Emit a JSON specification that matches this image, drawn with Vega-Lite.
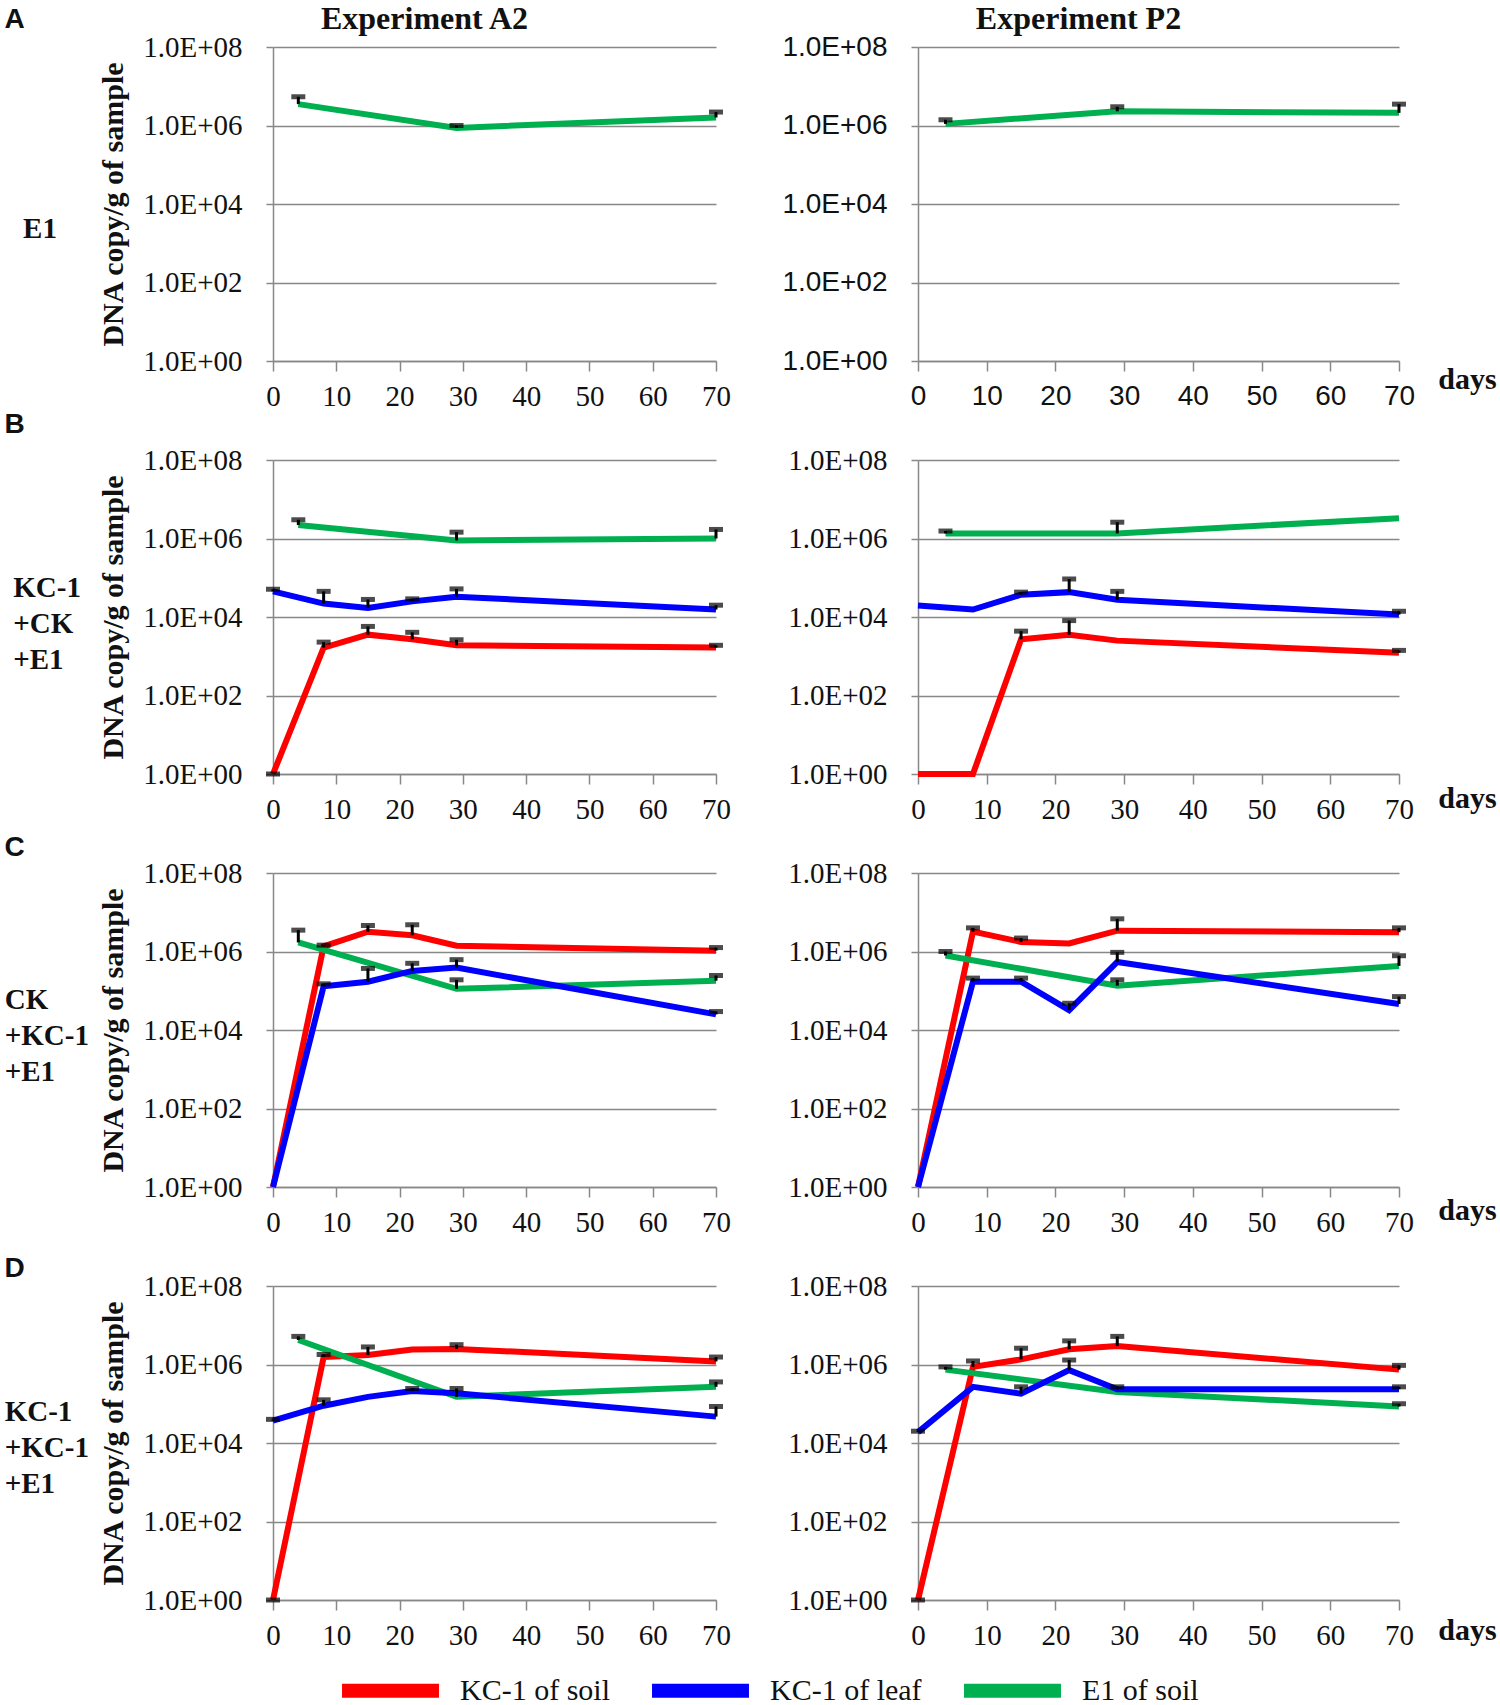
{
"$schema":"https://vega.github.io/schema/vega-lite/v6.json",
"autosize":"none",
"padding":{"left":273,"top":47,"right":1227,"bottom":1658},
"background":"white",
"datasets":{"d":[
{"panel":"A-A2","series":"E1 of soil","day":4,"value":3500000,"err":5400000},
{"panel":"A-A2","series":"E1 of soil","day":29,"value":870000,"err":1000000},
{"panel":"A-A2","series":"E1 of soil","day":70,"value":1600000,"err":2200000},
{"panel":"A-P2","series":"E1 of soil","day":4,"value":1100000,"err":1400000},
{"panel":"A-P2","series":"E1 of soil","day":29,"value":2300000,"err":3000000},
{"panel":"A-P2","series":"E1 of soil","day":70,"value":2100000,"err":3500000},
{"panel":"B-A2","series":"E1 of soil","day":4,"value":2200000,"err":3000000},
{"panel":"B-A2","series":"E1 of soil","day":29,"value":890000,"err":1450000},
{"panel":"B-A2","series":"E1 of soil","day":70,"value":1000000,"err":1700000},
{"panel":"B-A2","series":"KC-1 of leaf","day":0,"value":45000,"err":51000},
{"panel":"B-A2","series":"KC-1 of leaf","day":8,"value":22000,"err":45000},
{"panel":"B-A2","series":"KC-1 of leaf","day":15,"value":17000,"err":28000},
{"panel":"B-A2","series":"KC-1 of leaf","day":22,"value":25000,"err":29000},
{"panel":"B-A2","series":"KC-1 of leaf","day":29,"value":33000,"err":52000},
{"panel":"B-A2","series":"KC-1 of leaf","day":70,"value":15500,"err":20000},
{"panel":"B-A2","series":"KC-1 of soil","day":0,"value":1,"err":1},
{"panel":"B-A2","series":"KC-1 of soil","day":8,"value":1660,"err":2290},
{"panel":"B-A2","series":"KC-1 of soil","day":15,"value":3550,"err":5750},
{"panel":"B-A2","series":"KC-1 of soil","day":22,"value":2700,"err":4070},
{"panel":"B-A2","series":"KC-1 of soil","day":29,"value":1900,"err":2630},
{"panel":"B-A2","series":"KC-1 of soil","day":70,"value":1660,"err":1900},
{"panel":"B-P2","series":"E1 of soil","day":4,"value":1350000,"err":1550000},
{"panel":"B-P2","series":"E1 of soil","day":29,"value":1350000,"err":2600000},
{"panel":"B-P2","series":"E1 of soil","day":70,"value":3300000},
{"panel":"B-P2","series":"KC-1 of leaf","day":0,"value":19500},
{"panel":"B-P2","series":"KC-1 of leaf","day":8,"value":15500},
{"panel":"B-P2","series":"KC-1 of leaf","day":15,"value":37000,"err":43000},
{"panel":"B-P2","series":"KC-1 of leaf","day":22,"value":43000,"err":93000},
{"panel":"B-P2","series":"KC-1 of leaf","day":29,"value":27500,"err":45000},
{"panel":"B-P2","series":"KC-1 of leaf","day":70,"value":11500,"err":14000},
{"panel":"B-P2","series":"KC-1 of soil","day":0,"value":1},
{"panel":"B-P2","series":"KC-1 of soil","day":8,"value":1},
{"panel":"B-P2","series":"KC-1 of soil","day":15,"value":2700,"err":4360},
{"panel":"B-P2","series":"KC-1 of soil","day":22,"value":3550,"err":8100},
{"panel":"B-P2","series":"KC-1 of soil","day":29,"value":2500},
{"panel":"B-P2","series":"KC-1 of soil","day":70,"value":1230,"err":1410},
{"panel":"C-A2","series":"KC-1 of soil","day":0,"value":1},
{"panel":"C-A2","series":"KC-1 of soil","day":8,"value":1350000,"err":1450000},
{"panel":"C-A2","series":"KC-1 of soil","day":15,"value":3200000,"err":4600000},
{"panel":"C-A2","series":"KC-1 of soil","day":22,"value":2600000,"err":4800000},
{"panel":"C-A2","series":"KC-1 of soil","day":29,"value":1400000},
{"panel":"C-A2","series":"KC-1 of soil","day":70,"value":1050000,"err":1260000},
{"panel":"C-A2","series":"E1 of soil","day":4,"value":1700000,"err":3500000},
{"panel":"C-A2","series":"E1 of soil","day":29,"value":112000,"err":190000},
{"panel":"C-A2","series":"E1 of soil","day":70,"value":180000,"err":245000},
{"panel":"C-A2","series":"KC-1 of leaf","day":0,"value":1},
{"panel":"C-A2","series":"KC-1 of leaf","day":8,"value":130000,"err":150000},
{"panel":"C-A2","series":"KC-1 of leaf","day":15,"value":170000,"err":370000},
{"panel":"C-A2","series":"KC-1 of leaf","day":22,"value":320000,"err":500000},
{"panel":"C-A2","series":"KC-1 of leaf","day":29,"value":390000,"err":620000},
{"panel":"C-A2","series":"KC-1 of leaf","day":70,"value":25000,"err":29500},
{"panel":"C-P2","series":"KC-1 of soil","day":0,"value":1},
{"panel":"C-P2","series":"KC-1 of soil","day":8,"value":3200000,"err":4000000},
{"panel":"C-P2","series":"KC-1 of soil","day":15,"value":1750000,"err":2200000},
{"panel":"C-P2","series":"KC-1 of soil","day":22,"value":1600000},
{"panel":"C-P2","series":"KC-1 of soil","day":29,"value":3400000,"err":6800000},
{"panel":"C-P2","series":"KC-1 of soil","day":70,"value":3100000,"err":4000000},
{"panel":"C-P2","series":"E1 of soil","day":4,"value":790000,"err":1000000},
{"panel":"C-P2","series":"E1 of soil","day":29,"value":135000,"err":190000},
{"panel":"C-P2","series":"E1 of soil","day":70,"value":430000,"err":780000},
{"panel":"C-P2","series":"KC-1 of leaf","day":0,"value":1},
{"panel":"C-P2","series":"KC-1 of leaf","day":8,"value":170000,"err":210000},
{"panel":"C-P2","series":"KC-1 of leaf","day":15,"value":170000,"err":210000},
{"panel":"C-P2","series":"KC-1 of leaf","day":22,"value":32000,"err":48000},
{"panel":"C-P2","series":"KC-1 of leaf","day":29,"value":540000,"err":950000},
{"panel":"C-P2","series":"KC-1 of leaf","day":70,"value":46000,"err":71000},
{"panel":"D-A2","series":"KC-1 of soil","day":0,"value":1,"err":1},
{"panel":"D-A2","series":"KC-1 of soil","day":8,"value":1550000,"err":1800000},
{"panel":"D-A2","series":"KC-1 of soil","day":15,"value":1750000,"err":2800000},
{"panel":"D-A2","series":"KC-1 of soil","day":22,"value":2400000},
{"panel":"D-A2","series":"KC-1 of soil","day":29,"value":2500000,"err":3200000},
{"panel":"D-A2","series":"KC-1 of soil","day":70,"value":1200000,"err":1550000},
{"panel":"D-A2","series":"E1 of soil","day":4,"value":4200000,"err":5200000},
{"panel":"D-A2","series":"E1 of soil","day":29,"value":150000,"err":245000},
{"panel":"D-A2","series":"E1 of soil","day":70,"value":270000,"err":360000},
{"panel":"D-A2","series":"KC-1 of leaf","day":0,"value":37000,"err":40000},
{"panel":"D-A2","series":"KC-1 of leaf","day":8,"value":89000,"err":126000},
{"panel":"D-A2","series":"KC-1 of leaf","day":15,"value":150000},
{"panel":"D-A2","series":"KC-1 of leaf","day":22,"value":210000,"err":245000},
{"panel":"D-A2","series":"KC-1 of leaf","day":29,"value":185000},
{"panel":"D-A2","series":"KC-1 of leaf","day":70,"value":47000,"err":85000},
{"panel":"D-P2","series":"KC-1 of soil","day":0,"value":1,"err":1},
{"panel":"D-P2","series":"KC-1 of soil","day":8,"value":870000,"err":1230000},
{"panel":"D-P2","series":"KC-1 of soil","day":15,"value":1350000,"err":2600000},
{"panel":"D-P2","series":"KC-1 of soil","day":22,"value":2450000,"err":4000000},
{"panel":"D-P2","series":"KC-1 of soil","day":29,"value":2950000,"err":5200000},
{"panel":"D-P2","series":"KC-1 of soil","day":70,"value":740000,"err":950000},
{"panel":"D-P2","series":"E1 of soil","day":4,"value":740000,"err":870000},
{"panel":"D-P2","series":"E1 of soil","day":29,"value":200000},
{"panel":"D-P2","series":"E1 of soil","day":70,"value":85000,"err":100000},
{"panel":"D-P2","series":"KC-1 of leaf","day":0,"value":19000,"err":20000},
{"panel":"D-P2","series":"KC-1 of leaf","day":8,"value":270000},
{"panel":"D-P2","series":"KC-1 of leaf","day":15,"value":180000,"err":270000},
{"panel":"D-P2","series":"KC-1 of leaf","day":22,"value":720000,"err":1300000},
{"panel":"D-P2","series":"KC-1 of leaf","day":29,"value":235000,"err":270000},
{"panel":"D-P2","series":"KC-1 of leaf","day":70,"value":235000,"err":270000}
]},
"columns":2,
"spacing":{"row":99,"column":202},
"bounds":"flush",
"concat":[
{"width":443,"height":314,"data":{"name":"d"},"transform":[{"filter":"datum.panel === 'A-A2'"}],
 "title":{"text":"E1","orient":"left","frame":"group","angle":0,"align":"left","baseline":"middle","anchor":"middle","offset":-53,"dy":25,"font":"Liberation Serif","fontSize":29,"fontWeight":"bold","color":"#111"},
 "layer":[
  {"mark":{"type":"line","strokeWidth":6},"encoding":{
   "x":{"field":"day","type":"quantitative","scale":{"domain":[0,70],"nice":false},"axis":{"values":[0,10,20,30,40,50,60,70],"format":"d","title":null}},
   "y":{"field":"value","type":"quantitative","scale":{"type":"log","domain":[1,100000000],"nice":false},"axis":{"values":[1,100,10000,1000000,100000000],"labelExpr":"'1.0E+0' + round(log(datum.value)/LN10)","grid":true,"title":"DNA copy/g of sample","titlePadding":14}},
   "color":{"field":"series","type":"nominal","scale":{"domain":["KC-1 of soil","KC-1 of leaf","E1 of soil"],"range":["#ff0000","#0000ff","#00b050"]},"legend":{"orient":"none","legendX":62,"legendY":1588,"direction":"horizontal","title":null,"symbolType":"stroke","symbolStrokeWidth":14,"symbolSize":9400,"labelFont":"Liberation Serif","labelFontSize":30,"labelColor":"#111","columnPadding":14,"labelOffset":14}}}},
  {"transform":[{"filter":"isValid(datum.err)"}],"mark":{"type":"rule","color":"#000","strokeWidth":3},"encoding":{
   "x":{"field":"day","type":"quantitative","scale":{"domain":[0,70],"nice":false},"axis":{"orient":"top","labels":false,"ticks":false,"domain":false,"grid":false,"title":"Experiment A2","titleX":151,"titleY":-29,"titleAngle":0,"titleAlign":"center","titleBaseline":"middle","titleFontSize":32}},
   "y":{"field":"value","type":"quantitative","scale":{"type":"log","domain":[1,100000000],"nice":false},"axis":{"orient":"right","labels":false,"ticks":false,"domain":false,"grid":false,"title":"A","titleAngle":0,"titleX":-702,"titleY":-28,"titleAlign":"center","titleBaseline":"middle","titleFont":"Liberation Sans","titleFontSize":28}},
   "y2":{"field":"err"}}},
  {"transform":[{"filter":"isValid(datum.err)"}],"mark":{"type":"tick","orient":"horizontal","color":"#000","thickness":5,"size":14},"encoding":{
   "x":{"field":"day","type":"quantitative","scale":{"domain":[0,70],"nice":false},"axis":null},
   "y":{"field":"err","type":"quantitative","scale":{"type":"log","domain":[1,100000000],"nice":false},"axis":null}}}
 ],
 "resolve":{"axis":{"x":"independent","y":"independent"}}},
{"width":481,"height":314,"data":{"name":"d"},"transform":[{"filter":"datum.panel === 'A-P2'"}],
 "layer":[
  {"mark":{"type":"line","strokeWidth":6},"encoding":{
   "x":{"field":"day","type":"quantitative","scale":{"domain":[0,70],"nice":false},"axis":{"values":[0,10,20,30,40,50,60,70],"format":"d","labelFont":"Liberation Sans","labelFontSize":28,"title":"days","titleX":549,"titleY":18,"titleAngle":0,"titleAlign":"center","titleBaseline":"middle"}},
   "y":{"field":"value","type":"quantitative","scale":{"type":"log","domain":[1,100000000],"nice":false},"axis":{"values":[1,100,10000,1000000,100000000],"labelExpr":"'1.0E+0' + round(log(datum.value)/LN10)","labelFont":"Liberation Sans","labelFontSize":28,"grid":true,"title":null}},
   "color":{"field":"series","type":"nominal","scale":{"domain":["KC-1 of soil","KC-1 of leaf","E1 of soil"],"range":["#ff0000","#0000ff","#00b050"]},"legend":{"orient":"none","legendX":62,"legendY":1588,"direction":"horizontal","title":null,"symbolType":"stroke","symbolStrokeWidth":14,"symbolSize":9400,"labelFont":"Liberation Serif","labelFontSize":30,"labelColor":"#111","columnPadding":14,"labelOffset":14}}}},
  {"transform":[{"filter":"isValid(datum.err)"}],"mark":{"type":"rule","color":"#000","strokeWidth":3},"encoding":{
   "x":{"field":"day","type":"quantitative","scale":{"domain":[0,70],"nice":false},"axis":{"orient":"top","labels":false,"ticks":false,"domain":false,"grid":false,"title":"Experiment P2","titleX":160,"titleY":-29,"titleAngle":0,"titleAlign":"center","titleBaseline":"middle","titleFontSize":32}},
   "y":{"field":"value","type":"quantitative","scale":{"type":"log","domain":[1,100000000],"nice":false},"axis":null},
   "y2":{"field":"err"}}},
  {"transform":[{"filter":"isValid(datum.err)"}],"mark":{"type":"tick","orient":"horizontal","color":"#000","thickness":5,"size":14},"encoding":{
   "x":{"field":"day","type":"quantitative","scale":{"domain":[0,70],"nice":false},"axis":null},
   "y":{"field":"err","type":"quantitative","scale":{"type":"log","domain":[1,100000000],"nice":false},"axis":null}}}
 ],
 "resolve":{"axis":{"x":"independent","y":"independent"}}},
{"width":443,"height":314,"data":{"name":"d"},"transform":[{"filter":"datum.panel === 'B-A2'"}],
 "title":{"text":["KC-1","+CK","+E1"],"orient":"left","frame":"group","angle":0,"align":"left","baseline":"middle","anchor":"middle","offset":-77,"dy":-29,"lineHeight":36,"font":"Liberation Serif","fontSize":29,"fontWeight":"bold","color":"#111"},
 "layer":[
  {"mark":{"type":"line","strokeWidth":6},"encoding":{
   "x":{"field":"day","type":"quantitative","scale":{"domain":[0,70],"nice":false},"axis":{"values":[0,10,20,30,40,50,60,70],"format":"d","title":null}},
   "y":{"field":"value","type":"quantitative","scale":{"type":"log","domain":[1,100000000],"nice":false},"axis":{"values":[1,100,10000,1000000,100000000],"labelExpr":"'1.0E+0' + round(log(datum.value)/LN10)","grid":true,"title":"DNA copy/g of sample","titlePadding":14}},
   "color":{"field":"series","type":"nominal","scale":{"domain":["KC-1 of soil","KC-1 of leaf","E1 of soil"],"range":["#ff0000","#0000ff","#00b050"]},"legend":{"orient":"none","legendX":62,"legendY":1588,"direction":"horizontal","title":null,"symbolType":"stroke","symbolStrokeWidth":14,"symbolSize":9400,"labelFont":"Liberation Serif","labelFontSize":30,"labelColor":"#111","columnPadding":14,"labelOffset":14}}}},
  {"transform":[{"filter":"isValid(datum.err)"}],"mark":{"type":"rule","color":"#000","strokeWidth":3},"encoding":{
   "x":{"field":"day","type":"quantitative","scale":{"domain":[0,70],"nice":false},"axis":null},
   "y":{"field":"value","type":"quantitative","scale":{"type":"log","domain":[1,100000000],"nice":false},"axis":{"orient":"right","labels":false,"ticks":false,"domain":false,"grid":false,"title":"B","titleAngle":0,"titleX":-702,"titleY":-36,"titleAlign":"center","titleBaseline":"middle","titleFont":"Liberation Sans","titleFontSize":28}},
   "y2":{"field":"err"}}},
  {"transform":[{"filter":"isValid(datum.err)"}],"mark":{"type":"tick","orient":"horizontal","color":"#000","thickness":5,"size":14},"encoding":{
   "x":{"field":"day","type":"quantitative","scale":{"domain":[0,70],"nice":false},"axis":null},
   "y":{"field":"err","type":"quantitative","scale":{"type":"log","domain":[1,100000000],"nice":false},"axis":null}}}
 ],
 "resolve":{"axis":{"x":"independent","y":"independent"}}},
{"width":481,"height":314,"data":{"name":"d"},"transform":[{"filter":"datum.panel === 'B-P2'"}],
 "layer":[
  {"mark":{"type":"line","strokeWidth":6},"encoding":{
   "x":{"field":"day","type":"quantitative","scale":{"domain":[0,70],"nice":false},"axis":{"values":[0,10,20,30,40,50,60,70],"format":"d","title":"days","titleX":549,"titleY":24,"titleAngle":0,"titleAlign":"center","titleBaseline":"middle"}},
   "y":{"field":"value","type":"quantitative","scale":{"type":"log","domain":[1,100000000],"nice":false},"axis":{"values":[1,100,10000,1000000,100000000],"labelExpr":"'1.0E+0' + round(log(datum.value)/LN10)","grid":true,"title":null}},
   "color":{"field":"series","type":"nominal","scale":{"domain":["KC-1 of soil","KC-1 of leaf","E1 of soil"],"range":["#ff0000","#0000ff","#00b050"]},"legend":{"orient":"none","legendX":62,"legendY":1588,"direction":"horizontal","title":null,"symbolType":"stroke","symbolStrokeWidth":14,"symbolSize":9400,"labelFont":"Liberation Serif","labelFontSize":30,"labelColor":"#111","columnPadding":14,"labelOffset":14}}}},
  {"transform":[{"filter":"isValid(datum.err)"}],"mark":{"type":"rule","color":"#000","strokeWidth":3},"encoding":{
   "x":{"field":"day","type":"quantitative","scale":{"domain":[0,70],"nice":false},"axis":null},
   "y":{"field":"value","type":"quantitative","scale":{"type":"log","domain":[1,100000000],"nice":false},"axis":null},
   "y2":{"field":"err"}}},
  {"transform":[{"filter":"isValid(datum.err)"}],"mark":{"type":"tick","orient":"horizontal","color":"#000","thickness":5,"size":14},"encoding":{
   "x":{"field":"day","type":"quantitative","scale":{"domain":[0,70],"nice":false},"axis":null},
   "y":{"field":"err","type":"quantitative","scale":{"type":"log","domain":[1,100000000],"nice":false},"axis":null}}}
 ],
 "resolve":{"axis":{"x":"independent","y":"independent"}}},
{"width":443,"height":314,"data":{"name":"d"},"transform":[{"filter":"datum.panel === 'C-A2'"}],
 "title":{"text":["CK","+KC-1","+E1"],"orient":"left","frame":"group","angle":0,"align":"left","baseline":"middle","anchor":"middle","offset":-85,"dy":-30,"lineHeight":36,"font":"Liberation Serif","fontSize":29,"fontWeight":"bold","color":"#111"},
 "layer":[
  {"mark":{"type":"line","strokeWidth":6},"encoding":{
   "x":{"field":"day","type":"quantitative","scale":{"domain":[0,70],"nice":false},"axis":{"values":[0,10,20,30,40,50,60,70],"format":"d","title":null}},
   "y":{"field":"value","type":"quantitative","scale":{"type":"log","domain":[1,100000000],"nice":false},"axis":{"values":[1,100,10000,1000000,100000000],"labelExpr":"'1.0E+0' + round(log(datum.value)/LN10)","grid":true,"title":"DNA copy/g of sample","titlePadding":14}},
   "color":{"field":"series","type":"nominal","scale":{"domain":["KC-1 of soil","KC-1 of leaf","E1 of soil"],"range":["#ff0000","#0000ff","#00b050"]},"legend":{"orient":"none","legendX":62,"legendY":1588,"direction":"horizontal","title":null,"symbolType":"stroke","symbolStrokeWidth":14,"symbolSize":9400,"labelFont":"Liberation Serif","labelFontSize":30,"labelColor":"#111","columnPadding":14,"labelOffset":14}}}},
  {"transform":[{"filter":"isValid(datum.err)"}],"mark":{"type":"rule","color":"#000","strokeWidth":3},"encoding":{
   "x":{"field":"day","type":"quantitative","scale":{"domain":[0,70],"nice":false},"axis":null},
   "y":{"field":"value","type":"quantitative","scale":{"type":"log","domain":[1,100000000],"nice":false},"axis":{"orient":"right","labels":false,"ticks":false,"domain":false,"grid":false,"title":"C","titleAngle":0,"titleX":-702,"titleY":-26,"titleAlign":"center","titleBaseline":"middle","titleFont":"Liberation Sans","titleFontSize":28}},
   "y2":{"field":"err"}}},
  {"transform":[{"filter":"isValid(datum.err)"}],"mark":{"type":"tick","orient":"horizontal","color":"#000","thickness":5,"size":14},"encoding":{
   "x":{"field":"day","type":"quantitative","scale":{"domain":[0,70],"nice":false},"axis":null},
   "y":{"field":"err","type":"quantitative","scale":{"type":"log","domain":[1,100000000],"nice":false},"axis":null}}}
 ],
 "resolve":{"axis":{"x":"independent","y":"independent"}}},
{"width":481,"height":314,"data":{"name":"d"},"transform":[{"filter":"datum.panel === 'C-P2'"}],
 "layer":[
  {"mark":{"type":"line","strokeWidth":6},"encoding":{
   "x":{"field":"day","type":"quantitative","scale":{"domain":[0,70],"nice":false},"axis":{"values":[0,10,20,30,40,50,60,70],"format":"d","title":"days","titleX":549,"titleY":23,"titleAngle":0,"titleAlign":"center","titleBaseline":"middle"}},
   "y":{"field":"value","type":"quantitative","scale":{"type":"log","domain":[1,100000000],"nice":false},"axis":{"values":[1,100,10000,1000000,100000000],"labelExpr":"'1.0E+0' + round(log(datum.value)/LN10)","grid":true,"title":null}},
   "color":{"field":"series","type":"nominal","scale":{"domain":["KC-1 of soil","KC-1 of leaf","E1 of soil"],"range":["#ff0000","#0000ff","#00b050"]},"legend":{"orient":"none","legendX":62,"legendY":1588,"direction":"horizontal","title":null,"symbolType":"stroke","symbolStrokeWidth":14,"symbolSize":9400,"labelFont":"Liberation Serif","labelFontSize":30,"labelColor":"#111","columnPadding":14,"labelOffset":14}}}},
  {"transform":[{"filter":"isValid(datum.err)"}],"mark":{"type":"rule","color":"#000","strokeWidth":3},"encoding":{
   "x":{"field":"day","type":"quantitative","scale":{"domain":[0,70],"nice":false},"axis":null},
   "y":{"field":"value","type":"quantitative","scale":{"type":"log","domain":[1,100000000],"nice":false},"axis":null},
   "y2":{"field":"err"}}},
  {"transform":[{"filter":"isValid(datum.err)"}],"mark":{"type":"tick","orient":"horizontal","color":"#000","thickness":5,"size":14},"encoding":{
   "x":{"field":"day","type":"quantitative","scale":{"domain":[0,70],"nice":false},"axis":null},
   "y":{"field":"err","type":"quantitative","scale":{"type":"log","domain":[1,100000000],"nice":false},"axis":null}}}
 ],
 "resolve":{"axis":{"x":"independent","y":"independent"}}},
{"width":443,"height":314,"data":{"name":"d"},"transform":[{"filter":"datum.panel === 'D-A2'"}],
 "title":{"text":["KC-1","+KC-1","+E1"],"orient":"left","frame":"group","angle":0,"align":"left","baseline":"middle","anchor":"middle","offset":-85,"dy":-31,"lineHeight":36,"font":"Liberation Serif","fontSize":29,"fontWeight":"bold","color":"#111"},
 "layer":[
  {"mark":{"type":"line","strokeWidth":6},"encoding":{
   "x":{"field":"day","type":"quantitative","scale":{"domain":[0,70],"nice":false},"axis":{"values":[0,10,20,30,40,50,60,70],"format":"d","title":null}},
   "y":{"field":"value","type":"quantitative","scale":{"type":"log","domain":[1,100000000],"nice":false},"axis":{"values":[1,100,10000,1000000,100000000],"labelExpr":"'1.0E+0' + round(log(datum.value)/LN10)","grid":true,"title":"DNA copy/g of sample","titlePadding":14}},
   "color":{"field":"series","type":"nominal","scale":{"domain":["KC-1 of soil","KC-1 of leaf","E1 of soil"],"range":["#ff0000","#0000ff","#00b050"]},"legend":{"orient":"none","legendX":62,"legendY":1588,"direction":"horizontal","title":null,"symbolType":"stroke","symbolStrokeWidth":14,"symbolSize":9400,"labelFont":"Liberation Serif","labelFontSize":30,"labelColor":"#111","columnPadding":14,"labelOffset":14}}}},
  {"transform":[{"filter":"isValid(datum.err)"}],"mark":{"type":"rule","color":"#000","strokeWidth":3},"encoding":{
   "x":{"field":"day","type":"quantitative","scale":{"domain":[0,70],"nice":false},"axis":null},
   "y":{"field":"value","type":"quantitative","scale":{"type":"log","domain":[1,100000000],"nice":false},"axis":{"orient":"right","labels":false,"ticks":false,"domain":false,"grid":false,"title":"D","titleAngle":0,"titleX":-702,"titleY":-18,"titleAlign":"center","titleBaseline":"middle","titleFont":"Liberation Sans","titleFontSize":28}},
   "y2":{"field":"err"}}},
  {"transform":[{"filter":"isValid(datum.err)"}],"mark":{"type":"tick","orient":"horizontal","color":"#000","thickness":5,"size":14},"encoding":{
   "x":{"field":"day","type":"quantitative","scale":{"domain":[0,70],"nice":false},"axis":null},
   "y":{"field":"err","type":"quantitative","scale":{"type":"log","domain":[1,100000000],"nice":false},"axis":null}}}
 ],
 "resolve":{"axis":{"x":"independent","y":"independent"}}},
{"width":481,"height":314,"data":{"name":"d"},"transform":[{"filter":"datum.panel === 'D-P2'"}],
 "layer":[
  {"mark":{"type":"line","strokeWidth":6},"encoding":{
   "x":{"field":"day","type":"quantitative","scale":{"domain":[0,70],"nice":false},"axis":{"values":[0,10,20,30,40,50,60,70],"format":"d","title":"days","titleX":549,"titleY":30,"titleAngle":0,"titleAlign":"center","titleBaseline":"middle"}},
   "y":{"field":"value","type":"quantitative","scale":{"type":"log","domain":[1,100000000],"nice":false},"axis":{"values":[1,100,10000,1000000,100000000],"labelExpr":"'1.0E+0' + round(log(datum.value)/LN10)","grid":true,"title":null}},
   "color":{"field":"series","type":"nominal","scale":{"domain":["KC-1 of soil","KC-1 of leaf","E1 of soil"],"range":["#ff0000","#0000ff","#00b050"]},"legend":{"orient":"none","legendX":62,"legendY":1588,"direction":"horizontal","title":null,"symbolType":"stroke","symbolStrokeWidth":14,"symbolSize":9400,"labelFont":"Liberation Serif","labelFontSize":30,"labelColor":"#111","columnPadding":14,"labelOffset":14}}}},
  {"transform":[{"filter":"isValid(datum.err)"}],"mark":{"type":"rule","color":"#000","strokeWidth":3},"encoding":{
   "x":{"field":"day","type":"quantitative","scale":{"domain":[0,70],"nice":false},"axis":null},
   "y":{"field":"value","type":"quantitative","scale":{"type":"log","domain":[1,100000000],"nice":false},"axis":null},
   "y2":{"field":"err"}}},
  {"transform":[{"filter":"isValid(datum.err)"}],"mark":{"type":"tick","orient":"horizontal","color":"#000","thickness":5,"size":14},"encoding":{
   "x":{"field":"day","type":"quantitative","scale":{"domain":[0,70],"nice":false},"axis":null},
   "y":{"field":"err","type":"quantitative","scale":{"type":"log","domain":[1,100000000],"nice":false},"axis":null}}}
 ],
 "resolve":{"axis":{"x":"independent","y":"independent"}}}
],
"config":{
 "view":{"stroke":null},
 "font":"Liberation Serif",
 "axis":{"domainColor":"#888","domainWidth":1.5,"tickColor":"#888","tickWidth":1.5,"gridColor":"#888","gridWidth":1.5,"labelColor":"#111","labelFont":"Liberation Serif","labelFontSize":29,"labelFlush":false,"titleFont":"Liberation Serif","titleFontWeight":"bold","titleFontSize":30,"titleColor":"#111"},
 "axisX":{"grid":false,"tickSize":10,"labelPadding":11},
 "axisY":{"tickSize":7,"labelPadding":24}
}
}
